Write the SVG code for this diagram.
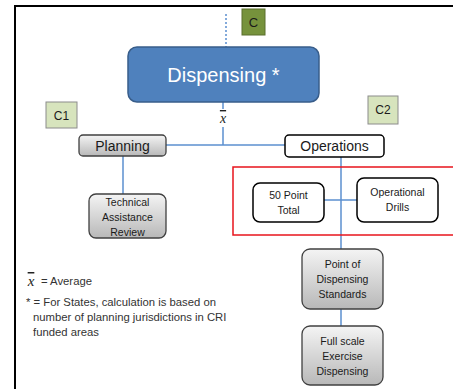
<svg xmlns="http://www.w3.org/2000/svg" width="453" height="389" viewBox="0 0 453 389">
<defs>
<linearGradient id="g" x1="0" y1="0" x2="0" y2="1">
<stop offset="0" stop-color="#F4F4F4"/>
<stop offset="1" stop-color="#B8B8B8"/>
</linearGradient>
<style>
.t{font-family:"Liberation Sans",Arial,sans-serif;fill:#1a1a1a;text-anchor:middle}
.gray{fill:url(#g);stroke:#404040;stroke-width:1.3}
.white{fill:#fff;stroke:#000;stroke-width:1.5}
.lbl{fill:#D7E4BD;stroke:#8c8c8c;stroke-width:1}
.ln{stroke:#5B8FCF;stroke-width:1.5;fill:none}
.leg{font-family:"Liberation Sans",Arial,sans-serif;font-size:11.3px;fill:#333}
.xb{font-family:"Liberation Serif",serif;font-style:italic;fill:#222;text-anchor:middle;text-decoration:overline}
</style>
</defs>
<rect width="453" height="389" fill="#fff"/>
<path d="M15 389V6H453" fill="none" stroke="#000" stroke-width="2"/>
<g id="connectors">
<line class="ln" x1="226" y1="14" x2="226" y2="47" stroke-dasharray="2,2" stroke-width="1"/>
<line class="ln" x1="223" y1="102" x2="223" y2="109"/>
<line class="ln" x1="223" y1="127" x2="223" y2="145"/>
<line class="ln" x1="166" y1="145" x2="285" y2="145"/>
<line class="ln" x1="123" y1="156" x2="123" y2="194"/>
<line class="ln" x1="341" y1="157" x2="341" y2="249"/>
<line class="ln" x1="324" y1="200" x2="357" y2="200"/>
<line class="ln" x1="341" y1="309" x2="341" y2="326"/>
</g>
<g id="xbar"><text class="xb" x="223" y="123" font-size="14">x</text></g>
<g id="C"><rect x="242" y="9" width="23" height="26" fill="#76923C" stroke="#5a6e2c"/><text class="t" x="253.5" y="27" font-size="13">C</text></g>
<g id="C1"><rect class="lbl" x="46" y="102" width="31" height="26"/><text class="t" x="61.5" y="120" font-size="12">C1</text></g>
<g id="C2"><rect class="lbl" x="368" y="96" width="30" height="28"/><text class="t" x="383" y="114" font-size="12">C2</text></g>
<g id="dispensing"><rect x="128" y="47" width="191" height="55" rx="9" fill="#4F81BD" stroke="#385D8A" stroke-width="1.5"/><text class="t" x="223.5" y="82" font-size="20" style="fill:#fff">Dispensing *</text></g>
<g id="planning"><rect class="gray" x="79" y="135" width="87" height="21" rx="4"/><text class="t" x="122.5" y="151" font-size="14">Planning</text></g>
<g id="operations"><rect class="white" x="285" y="135" width="99" height="22" rx="4"/><text class="t" x="334.5" y="151" font-size="14">Operations</text></g>
<g id="technical"><rect class="gray" x="89" y="194" width="77" height="44" rx="7"/><text class="t" font-size="10.5"><tspan x="127.5" y="206">Technical</tspan><tspan x="127.5" y="221">Assistance</tspan><tspan x="127.5" y="236">Review</tspan></text></g>
<rect id="redbox" x="233" y="167" width="225" height="68" fill="none" stroke="#E8141C" stroke-width="1.5"/>
<g id="fifty"><rect class="white" x="253" y="183" width="71" height="39" rx="7"/><text class="t" font-size="10.5"><tspan x="288.5" y="199">50 Point</tspan><tspan x="288.5" y="214">Total</tspan></text></g>
<g id="drills"><rect class="white" x="357" y="178" width="81" height="44" rx="7"/><text class="t" font-size="10.5"><tspan x="397.5" y="196">Operational</tspan><tspan x="397.5" y="211">Drills</tspan></text></g>
<g id="pod"><rect class="gray" x="302" y="249" width="81" height="60" rx="8"/><text class="t" font-size="10.5"><tspan x="342.5" y="268">Point of</tspan><tspan x="342.5" y="283">Dispensing</tspan><tspan x="342.5" y="298">Standards</tspan></text></g>
<g id="fullscale"><rect class="gray" x="302" y="326" width="81" height="59" rx="8"/><text class="t" font-size="10.5"><tspan x="342.5" y="345">Full scale</tspan><tspan x="342.5" y="360">Exercise</tspan><tspan x="342.5" y="375">Dispensing</tspan></text></g>
<g id="legend">
<text class="xb" x="31" y="286" font-size="15">x</text>
<text class="leg" x="41" y="285">= Average</text>
<text class="leg" x="26" y="306">* = For States, calculation is based on</text>
<text class="leg" x="33" y="321">number of planning jurisdictions in CRI</text>
<text class="leg" x="33" y="336">funded areas</text>
</g>
</svg>
